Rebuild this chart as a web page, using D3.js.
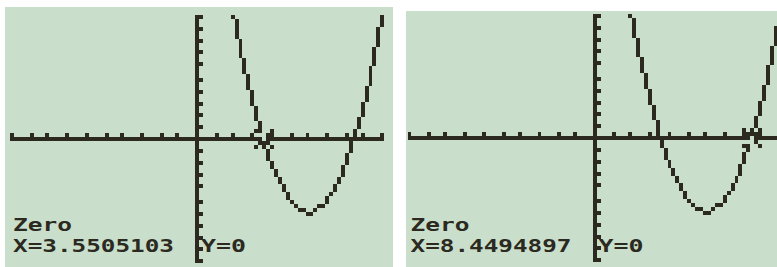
<!DOCTYPE html>
<html lang="en">
<head>
  <meta charset="UTF-8">
  <title>TI graph - Zero</title>
  <script src="https://d3js.org/d3.v7.min.js"></script>
</head>
<body style="margin: 0; padding: 0; overflow: hidden; background: #fff;">
  <svg id="svg-container"></svg>

  <script>
    // y = x^2 - 12x + 30, standard window
    const coefficients = [1, -12, 30];
    const windowX = [-10, 10];
    const windowY = [-10, 10];
    const tickStep = [1, 1];
    const zeroValues = ["3.5505103", "8.4494897"];
    const promptText = "Zero";
    const yText = "Y=0";

    const COLS = 95, ROWS = 63;
    const cell = 3.94;
    const ink = "#2b2920";
    const screenBg = "#c9dfcc";

    const panels = [
      { x: 5, y: 7, w: 388, h: 260, gx: 10, gy: 15, zero: zeroValues[0] },
      { x: 406, y: 11, w: 371, h: 256, gx: 407.5, gy: 14, zero: zeroValues[1] }
    ];

    const svg = d3.select("#svg-container")
      .attr("width", 777)
      .attr("height", 267);

    // calculator coordinates -> screen pixel column / row
    const colScale = d3.scaleLinear().domain(windowX).range([0, COLS - 1]);
    const rowScale = d3.scaleLinear().domain(windowY).range([ROWS - 1, 0]);

    function f(x) {
      return coefficients.reduce((acc, c) => acc * x + c, 0);
    }

    function linePixels(c0, r0, c1, r1, out) {
      let dx = Math.abs(c1 - c0), dy = -Math.abs(r1 - r0);
      let sx = c0 < c1 ? 1 : -1, sy = r0 < r1 ? 1 : -1;
      let err = dx + dy, c = c0, r = r0;
      while (true) {
        out.push([c, r]);
        if (c === c1 && r === r1) break;
        const e2 = 2 * err;
        if (e2 >= dy) { err += dy; c += sx; }
        if (e2 <= dx) { err += dx; r += sy; }
      }
    }

    function screenPixels(zero) {
      const on = new Set();
      const put = (c, r) => { if (c >= 0 && c < COLS && r >= 0 && r < ROWS) on.add(c + "," + r); };
      const axisCol = Math.round(colScale(0)), axisRow = Math.round(rowScale(0));
      for (let c = 0; c < COLS; c++) put(c, axisRow);
      for (let r = 0; r < ROWS; r++) put(axisCol, r);
      d3.range(windowX[0], windowX[1] + tickStep[0], tickStep[0]).forEach(v => put(Math.round(colScale(v)), axisRow - 1));
      d3.range(windowY[0], windowY[1] + tickStep[1], tickStep[1]).forEach(v => put(axisCol + 1, Math.round(rowScale(v))));

      // connected-mode graph
      let prev = null;
      for (let c = 0; c < COLS; c++) {
        const y = f(colScale.invert(c));
        const r = Math.round(rowScale(y));
        const rc = Math.max(-40, Math.min(ROWS + 40, r));
        if (prev) {
          const pts = [];
          linePixels(prev[0], prev[1], c, rc, pts);
          pts.forEach(p => put(p[0], p[1]));
        }
        prev = [c, rc];
      }

      // trace cursor (XOR)
      const cc = Math.round(colScale(+zero)), cr = Math.round(rowScale(0));
      [[-2,-2],[-1,-1],[0,0],[1,1],[2,2],[-2,2],[-1,1],[1,-1],[2,-2]].forEach(([dc, dr]) => {
        const k = (cc + dc) + "," + (cr + dr);
        if (on.has(k)) on.delete(k); else on.add(k);
      });

      return Array.from(on).map(k => k.split(",").map(Number));
    }

    panels.forEach(p => {
      const g = svg.append("g");
      g.append("rect")
        .attr("x", p.x).attr("y", p.y)
        .attr("width", p.w).attr("height", p.h)
        .attr("fill", screenBg);

      const px = d3.scaleLinear().domain([0, COLS - 1]).range([p.gx, p.gx + (COLS - 1) * cell]);
      const py = d3.scaleLinear().domain([0, ROWS - 1]).range([p.gy, p.gy + (ROWS - 1) * cell]);

      // whole-pixel rects so neighbouring cells join up without seams
      g.selectAll("rect.px")
        .data(screenPixels(p.zero))
        .enter()
        .append("rect")
        .attr("class", "px")
        .attr("x", d => Math.round(px(d[0])))
        .attr("y", d => Math.round(py(d[1])))
        .attr("width", d => Math.round(px(d[0] + 1)) - Math.round(px(d[0])))
        .attr("height", d => Math.round(py(d[1] + 1)) - Math.round(py(d[1])))
        .attr("shape-rendering", "crispEdges")
        .attr("fill", ink);

      const textStyle = sel => sel
        .attr("font-family", "DejaVu Sans Mono")
        .attr("font-weight", "bold")
        .attr("font-size", 18)
        .attr("fill", ink);

      g.append("text").call(textStyle)
        .attr("x", p.gx + 3).attr("y", 231)
        .attr("textLength", 59).attr("lengthAdjust", "spacingAndGlyphs")
        .text(promptText);
      g.append("text").call(textStyle)
        .attr("x", p.gx + 3).attr("y", 252)
        .attr("textLength", 161).attr("lengthAdjust", "spacingAndGlyphs")
        .text("X=" + p.zero);
      g.append("text").call(textStyle)
        .attr("x", px(48) + 2).attr("y", 252)
        .attr("textLength", 45).attr("lengthAdjust", "spacingAndGlyphs")
        .text(yText);
    });
  </script>
</body>
</html>
